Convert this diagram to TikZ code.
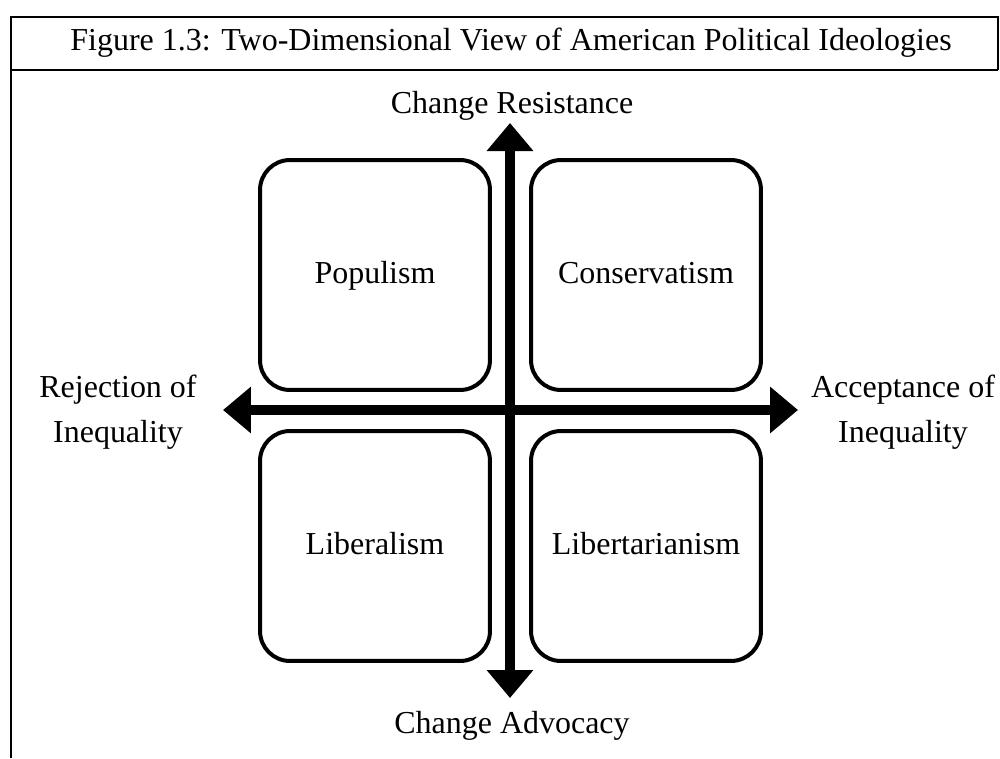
\documentclass[tikz,border=0pt]{standalone}
\usepackage{fontspec}
\setmainfont{Liberation Serif}
\usetikzlibrary{arrows.meta}
\tikzset{
  quad/.style={draw, line width=0.08cm, rounded corners=0.6cm,
    minimum width=4.6cm, minimum height=4.6cm, text height=2.4ex, text depth=0.2ex},
  axis/.style={line width=0.2cm,
    {Triangle[width=0.9cm,length=0.56cm]}-{Triangle[width=0.9cm,length=0.56cm]}},
  frame/.style={line width=0.045cm}
}
\begin{document}
\begin{tikzpicture}[x=0.02cm, y=-0.02cm, every node/.style={font=\fontsize{18.2}{25.5}\selectfont, align=center}]
\useasboundingbox (0,0) rectangle (1000,758);
% frame and title
\draw[frame] (11,758) -- (11,17) -- (998,17) -- (998,70);
\draw[frame] (11,70) -- (998,70);
\node (title) at (511,43) {Figure 1.3: Two-Dimensional View of American Political Ideologies};

% quadrants
\node[quad] (populism) at (375,275) {Populism};
\node[quad] (conserv) at (646,275) {Conservatism};
\node[quad] (liberal) at (375,546) {Liberalism};
\node[quad] (libert) at (646,546) {Libertarianism};

% axis ends
\coordinate (ytop) at (510,123);
\coordinate (ybot) at (510,698);
\coordinate (xleft) at (223,410);
\coordinate (xright) at (798,410);

% axes
\draw[axis] (ybot) -- (ytop);
\draw[axis] (xleft) -- (xright);

% axis labels
\node (resist) at (512,106) {Change Resistance};
\node (advoc) at (512,726) {Change Advocacy};
\node (reject) at (118,412) {Rejection of\\Inequality};
\node (accept) at (903,412) {Acceptance of\\Inequality};
\end{tikzpicture}
\end{document}
